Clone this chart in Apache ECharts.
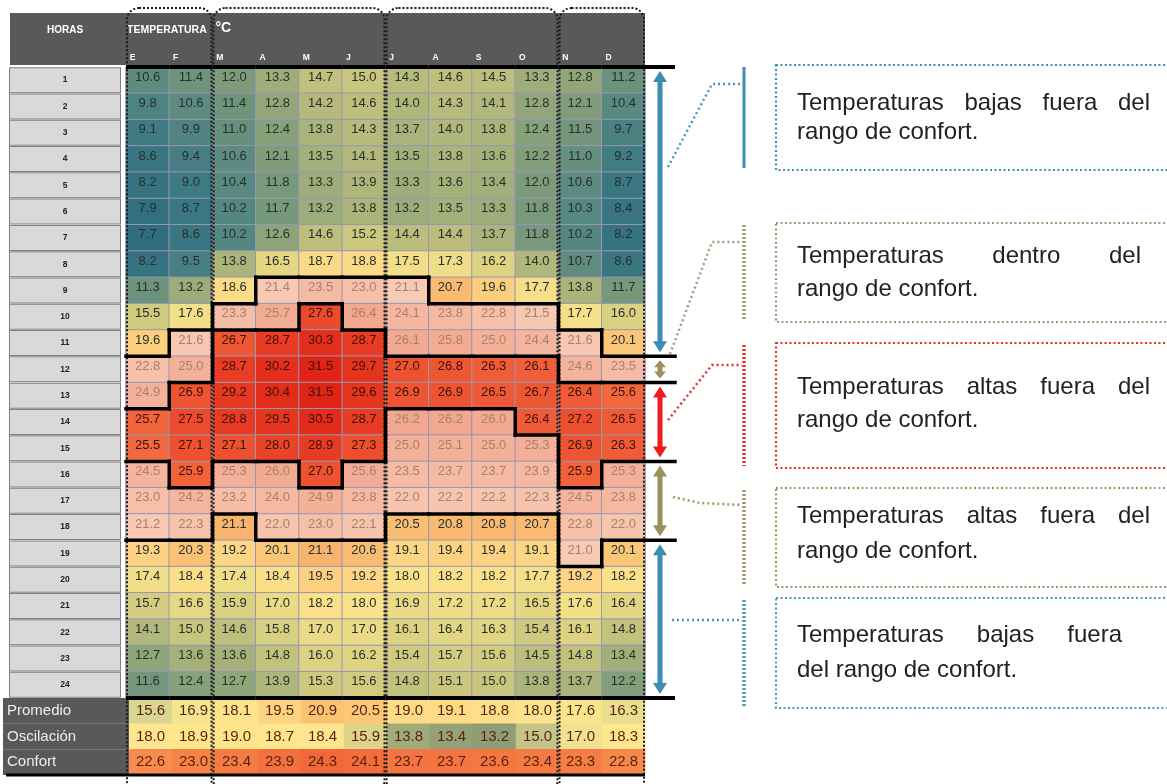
<!DOCTYPE html>
<html><head><meta charset="utf-8">
<script src="https://cdn.jsdelivr.net/npm/echarts@6/dist/echarts.min.js"></script>
<style>html,body{margin:0;padding:0;background:#fff;}#c{width:1167px;height:784px;}</style>
</head><body><div id="c"></div>
<script>
// ---------- DATA ----------
const months = ['E','F','M','A','M','J','J','A','S','O','N','D'];
const hours = ['1','2','3','4','5','6','7','8','9','10','11','12','13','14','15','16','17','18','19','20','21','22','23','24'];
const summaryLabels = ['Promedio','Oscilación','Confort'];

const h01 = [10.6,11.4,12.0,13.3,14.7,15.0,14.3,14.6,14.5,13.3,12.8,11.2];
const h02 = [9.8,10.6,11.4,12.8,14.2,14.6,14.0,14.3,14.1,12.8,12.1,10.4];
const h03 = [9.1,9.9,11.0,12.4,13.8,14.3,13.7,14.0,13.8,12.4,11.5,9.7];
const h04 = [8.6,9.4,10.6,12.1,13.5,14.1,13.5,13.8,13.6,12.2,11.0,9.2];
const h05 = [8.2,9.0,10.4,11.8,13.3,13.9,13.3,13.6,13.4,12.0,10.6,8.7];
const h06 = [7.9,8.7,10.2,11.7,13.2,13.8,13.2,13.5,13.3,11.8,10.3,8.4];
const h07 = [7.7,8.6,10.2,12.6,14.6,15.2,14.4,14.4,13.7,11.8,10.2,8.2];
const h08 = [8.2,9.5,13.8,16.5,18.7,18.8,17.5,17.3,16.2,14.0,10.7,8.6];
const h09 = [11.3,13.2,18.6,21.4,23.5,23.0,21.1,20.7,19.6,17.7,13.8,11.7];
const h10 = [15.5,17.6,23.3,25.7,27.6,26.4,24.1,23.8,22.8,21.5,17.7,16.0];
const h11 = [19.6,21.6,26.7,28.7,30.3,28.7,26.1,25.8,25.0,24.4,21.6,20.1];
const h12 = [22.8,25.0,28.7,30.2,31.5,29.7,27.0,26.8,26.3,26.1,24.6,23.5];
const h13 = [24.9,26.9,29.2,30.4,31.5,29.6,26.9,26.9,26.5,26.7,26.4,25.6];
const h14 = [25.7,27.5,28.8,29.5,30.5,28.7,26.2,26.2,26.0,26.4,27.2,26.5];
const h15 = [25.5,27.1,27.1,28.0,28.9,27.3,25.0,25.1,25.0,25.3,26.9,26.3];
const h16 = [24.5,25.9,25.3,26.0,27.0,25.6,23.5,23.7,23.7,23.9,25.9,25.3];
const h17 = [23.0,24.2,23.2,24.0,24.9,23.8,22.0,22.2,22.2,22.3,24.5,23.8];
const h18 = [21.2,22.3,21.1,22.0,23.0,22.1,20.5,20.8,20.8,20.7,22.8,22.0];
const h19 = [19.3,20.3,19.2,20.1,21.1,20.6,19.1,19.4,19.4,19.1,21.0,20.1];
const h20 = [17.4,18.4,17.4,18.4,19.5,19.2,18.0,18.2,18.2,17.7,19.2,18.2];
const h21 = [15.7,16.6,15.9,17.0,18.2,18.0,16.9,17.2,17.2,16.5,17.6,16.4];
const h22 = [14.1,15.0,14.6,15.8,17.0,17.0,16.1,16.4,16.3,15.4,16.1,14.8];
const h23 = [12.7,13.6,13.6,14.8,16.0,16.2,15.4,15.7,15.6,14.5,14.8,13.4];
const h24 = [11.6,12.4,12.7,13.9,15.3,15.6,14.8,15.1,15.0,13.8,13.7,12.2];

const promedio   = [15.6,16.9,18.1,19.5,20.9,20.5,19.0,19.1,18.8,18.0,17.6,16.3];
const oscilacion = [18.0,18.9,19.0,18.7,18.4,15.9,13.8,13.4,13.2,15.0,17.0,18.3];
const confort    = [22.6,23.0,23.4,23.9,24.3,24.1,23.7,23.7,23.6,23.4,23.3,22.8];

// comfort zone (hours) per month, as outlined in the table
const comfortStart = [12,11,10,9,9,9,9,10,10,10,11,12];
const hotStart     = [14,13,11,11,10,11,12,12,12,12,13,13];
const hotEnd       = [15,16,15,15,16,15,13,13,13,14,16,15];
const comfortEnd   = [18,18,17,18,18,18,17,17,17,17,19,18];

const notes = [
  ['Temperaturas bajas fuera del','rango de confort.'],
  ['Temperaturas dentro del','rango de confort.'],
  ['Temperaturas altas fuera del','rango de confort.'],
  ['Temperaturas altas fuera del','rango de confort.'],
  ['Temperaturas bajas fuera','del rango de confort.']
];

// ---------- HELPERS ----------
const hourRows = [h01,h02,h03,h04,h05,h06,h07,h08,h09,h10,h11,h12,h13,h14,h15,h16,h17,h18,h19,h20,h21,h22,h23,h24];
const summaryRows = [promedio, oscilacion, confort];
const FONT = "'Liberation Sans', Arial, sans-serif";

function zoneOf(m, h) {
  if (h < comfortStart[m] || h > comfortEnd[m]) return 0;
  if (h >= hotStart[m] && h <= hotEnd[m]) return 2;
  return 1;
}
function hex(c){return [parseInt(c.substr(1,2),16),parseInt(c.substr(3,2),16),parseInt(c.substr(5,2),16)];}
function scale(stops, v) {
  if (v <= stops[0][0]) return stops[0][1];
  for (let i = 1; i < stops.length; i++) {
    if (v <= stops[i][0]) {
      const t = (v - stops[i-1][0]) / (stops[i][0] - stops[i-1][0]);
      const a = hex(stops[i-1][1]), b = hex(stops[i][1]);
      return 'rgb(' + a.map((x, k) => Math.round(x + (b[k]-x)*t)).join(',') + ')';
    }
  }
  return stops[stops.length-1][1];
}
const belowStops = [[7.5,'#2e6c7e'],[9,'#3e7a84'],[10.5,'#5b8a80'],[12,'#7d9b7a'],[13.5,'#a4b07a'],[15,'#c8c57e'],[16.5,'#e4d784'],[18,'#f9e28a'],[19.2,'#fdd584'],[20.2,'#fbc476'],[21.2,'#f8b16c']];
const comfortStops = [[20,'#f8d0ba'],[23,'#f6bfa8'],[26.5,'#f2a68e']];
const hotStops = [[25.5,'#f2683f'],[28,'#ea4428'],[31.5,'#df2314']];
const sumStops = [
  [[15.6,'#d8d690'],[17,'#f6e690'],[18.5,'#fee38c'],[20.9,'#fcc274']],
  [[13.2,'#8e9d74'],[15,'#c3c487'],[16.5,'#ecdf8e'],[18,'#fee690'],[19,'#ffe58a']],
  [[22.6,'#f88c4e'],[24.3,'#f1683a']]
];

const hourData = [];
const cellData = [];
hourRows.forEach((row, r) => row.forEach((v, c) => {
  const z = zoneOf(c, r + 1);
  const col = z === 0 ? scale(belowStops, v) : (z === 1 ? scale(comfortStops, v) : scale(hotStops, v));
  const lc = z === 0 ? '#26302a' : (z === 1 ? '#a88070' : '#3d0f08');
  hourData.push({value: [c, r, v], itemStyle: {color: col}, label: {color: lc}});
  cellData.push([c, r]);
}));
const sumData = [];
summaryRows.forEach((row, r) => row.forEach((v, c) => {
  sumData.push({value: [c, r, v], itemStyle: {color: scale(sumStops[r], v)}});
}));

// ---------- CHART ----------
const chart = echarts.init(document.getElementById('c'));
const LINE = '#000';
chart.setOption({
  animation: false,
  backgroundColor: '#fff',
  grid: [
    {left: 126, top: 67, width: 519, height: 631},
    {left: 126, top: 698, width: 519, height: 77}
  ],
  xAxis: [
    {type: 'category', gridIndex: 0, data: months, position: 'top', z: 6,
     axisLine: {show: false}, axisTick: {show: false}, splitLine: {show: false},
     axisLabel: {interval: 0, margin: 3, formatter: v => '{l|' + v + '}{s| }',
       rich: {l: {color: '#fff', fontWeight: 'bold', fontSize: 8.5, fontFamily: FONT, width: 8, align: 'left'}, s: {width: 28}}}},
    {type: 'category', gridIndex: 1, data: months, show: false}
  ],
  yAxis: [
    {type: 'category', gridIndex: 0, data: hours, inverse: true, z: 6,
     axisLine: {show: false}, axisTick: {show: false}, splitLine: {show: false},
     axisLabel: {interval: 0, margin: 61, align: 'center', width: 110, overflow: 'none',
       backgroundColor: '#d9d9d9', borderColor: '#808080', borderWidth: 1,
       padding: [9, 0, 1, 0], lineHeight: 14, color: '#222', fontWeight: 'bold', fontSize: 8.5, fontFamily: FONT}},
    {type: 'category', gridIndex: 1, data: summaryLabels, inverse: true, z: 6,
     axisLine: {show: false}, axisTick: {show: false}, splitLine: {show: false},
     axisLabel: {interval: 0, margin: 126, align: 'left', width: 122, overflow: 'none',
       backgroundColor: '#595959', padding: [0, 0, 0, 4], lineHeight: 25.67, height: 25.67,
       color: '#eeeeee', fontSize: 15, fontFamily: FONT}}
  ],
  series: [
    {type: 'heatmap', xAxisIndex: 0, yAxisIndex: 0, data: hourData,
     itemStyle: {borderColor: '#9896b4', borderWidth: 1},
     label: {show: true, formatter: p => p.value[2].toFixed(1), fontSize: 13, fontFamily: FONT, offset: [0, -3]},
     emphasis: {disabled: true}},
    {type: 'heatmap', xAxisIndex: 1, yAxisIndex: 1, data: sumData,
     label: {show: true, formatter: p => p.value[2].toFixed(1), fontSize: 15, fontFamily: FONT, color: '#5c1f0c'},
     emphasis: {disabled: true}},
    {type: 'custom', xAxisIndex: 0, yAxisIndex: 0, data: cellData, z: 12, silent: true,
     encode: {x: 0, y: 1},
     renderItem: (params, api) => {
       const c = api.value(0), r = api.value(1);
       const p = api.coord([c, r]); const s = api.size([1, 1]);
       const x0 = p[0] - s[0]/2, x1 = p[0] + s[0]/2, y0 = p[1] - s[1]/2, y1 = p[1] + s[1]/2;
       const z = zoneOf(c, r + 1);
       const st = {stroke: LINE, lineWidth: 3.5, lineCap: 'square'};
       const kids = [];
       const ext = c === 11 ? 30 : 0;
       if (c < 11 && zoneOf(c + 1, r + 1) !== z) kids.push({type: 'line', shape: {x1: x1, y1: y0, x2: x1, y2: y1}, style: st});
       if (r < 23 && zoneOf(c, r + 2) !== z) kids.push({type: 'line', shape: {x1: x0, y1: y1, x2: x1 + ext, y2: y1}, style: st});
       if (r === 0) kids.push({type: 'line', shape: {x1: x0, y1: y0, x2: x1 + ext, y2: y0}, style: {stroke: LINE, lineWidth: 4}});
       if (r === 23) kids.push({type: 'line', shape: {x1: x0, y1: y1, x2: x1 + ext, y2: y1}, style: {stroke: LINE, lineWidth: 4}});
       return {type: 'group', children: kids};
     }}
  ]
});

// ---------- DECORATIONS (annotations) ----------
const p00 = chart.convertToPixel({gridIndex: 0}, [0, 0]);
const p11 = chart.convertToPixel({gridIndex: 0}, [1, 1]);
const cw = p11[0] - p00[0], rh = p11[1] - p00[1];
const colL = c => p00[0] + c * cw - cw/2;
const rowT = r => p00[1] + r * rh - rh/2;   // r = 0-based row index
const gTop = rowT(0);
const sumBottom = chart.convertToPixel({gridIndex: 1}, [0, 2])[1] + 77/6;

const G = [];
// header
G.push({type: 'rect', z: 1, shape: {x: 10, y: 13, width: colL(12) - 10, height: gTop - 15}, style: {fill: '#595959'}});
G.push({type: 'text', z: 7, x: 65, y: 30, style: {text: 'HORAS', fill: '#fff', font: 'bold 10px ' + FONT, textAlign: 'center', textVerticalAlign: 'middle'}});
G.push({type: 'text', z: 7, x: colL(0) + 1, y: 30, style: {text: 'TEMPERATURA', fill: '#fff', font: 'bold 10.5px ' + FONT, textAlign: 'left', textVerticalAlign: 'middle'}});
G.push({type: 'text', z: 7, x: colL(2) + 3, y: 28, style: {text: '°C', fill: '#fff', font: 'bold 14px ' + FONT, textAlign: 'left', textVerticalAlign: 'middle'}});
// bottom line of the table
G.push({type: 'line', z: 13, shape: {x1: 6, y1: sumBottom, x2: colL(12), y2: sumBottom}, style: {stroke: '#000', lineWidth: 3}});
// dotted month groups
[[0, 2], [2, 6], [6, 10], [10, 12]].forEach(g => {
  G.push({type: 'rect', z: 11, shape: {x: colL(g[0]) + 1, y: 8, width: colL(g[1]) - colL(g[0]) - 2, height: 785, r: 12},
    style: {fill: 'none', stroke: '#1a1a1a', lineWidth: 2, lineDash: [2, 2]}});
});
// double arrows following the December column zones
const cBlue = '#3d8cb2', cKhaki = '#9a905e', cRed = '#ee1c1c';
const zcol = [cBlue, cKhaki, cRed];
function arrow(x, y1, y2, color, hw, hl, sw) {
  return {type: 'polygon', z: 14, shape: {points: [[x, y1], [x + hw, y1 + hl], [x + sw, y1 + hl], [x + sw, y2 - hl], [x + hw, y2 - hl], [x, y2], [x - hw, y2 - hl], [x - sw, y2 - hl], [x - sw, y1 + hl], [x - hw, y1 + hl]]}, style: {fill: color}};
}
let start = 0;
for (let h = 1; h <= 24; h++) {
  const z = zoneOf(11, h);
  if (h === 24 || zoneOf(11, h + 1) !== z) {
    const y1 = rowT(start) + 4, y2 = rowT(h) - 4;
    const small = (y2 - y1) < 30;
    G.push(arrow(colL(12) + 15, y1, y2, zcol[z], small ? 6 : 7, small ? 7 : 11, 2.5));
    start = h;
  }
}
// annotation boxes
const boxes = [
  {top: 65, bot: 170, color: '#3f93b5', mark: '#3f8eae', solid: true, link: [[668, 167], [712, 84], [742, 84]], ty: [103, 132], x1: 1150, lineC: '#4a9ab8'},
  {top: 223, bot: 322, color: '#a29b78', mark: '#a29b78', link: [[670, 354], [712, 242], [742, 242]], ty: [256, 289], x1: 1141, lineC: '#a29b80'},
  {top: 343, bot: 468, color: '#e53030', mark: '#e53030', link: [[668, 420], [712, 365], [742, 365]], ty: [387, 420], x1: 1150, lineC: '#e53030'},
  {top: 488, bot: 587, color: '#a5946a', mark: '#a5946a', link: [[673, 497], [700, 503], [742, 505]], ty: [516, 551], x1: 1150, lineC: '#a5946a'},
  {top: 598, bot: 708, color: '#4a9ab8', mark: '#4a9ab8', link: [[672, 620], [742, 620]], ty: [635, 670], x1: 1122, lineC: '#4a9ab8'}
];
const ctx = document.createElement('canvas').getContext('2d');
const NF = '24px ' + FONT;
ctx.font = NF;
function textLine(str, x0, x1, y, justify) {
  const words = str.split(' ');
  if (!justify || words.length < 2) {
    G.push({type: 'text', z: 15, x: x0, y: y, style: {text: str, fill: '#222', font: NF, textAlign: 'left', textVerticalAlign: 'middle'}});
    return;
  }
  const ws = words.map(w => ctx.measureText(w).width);
  const gap = (x1 - x0 - ws.reduce((a, b) => a + b, 0)) / (words.length - 1);
  let x = x0;
  words.forEach((w, i) => {
    G.push({type: 'text', z: 15, x: x, y: y, style: {text: w, fill: '#222', font: NF, textAlign: 'left', textVerticalAlign: 'middle'}});
    x += ws[i] + gap;
  });
}
boxes.forEach((b, i) => {
  G.push({type: 'rect', z: 15, shape: {x: 776, y: b.top, width: 420, height: b.bot - b.top},
    style: {fill: 'none', stroke: b.color, lineWidth: 2.2, lineDash: [2, 2.5]}});
  G.push({type: 'line', z: 15, shape: {x1: 744, y1: b.top + 2, x2: 744, y2: b.bot - 2},
    style: b.solid ? {stroke: b.mark, lineWidth: 3} : {stroke: b.mark, lineWidth: 3.5, lineDash: [2, 2]}});
  G.push({type: 'polyline', z: 15, shape: {points: b.link}, style: {fill: 'none', stroke: b.lineC, lineWidth: 2.5, lineDash: [2, 3]}});
  textLine(notes[i][0], 797, b.x1, b.ty[0], true);
  textLine(notes[i][1], 797, b.x1, b.ty[1], false);
});
chart.setOption({graphic: G});
</script></body></html>
